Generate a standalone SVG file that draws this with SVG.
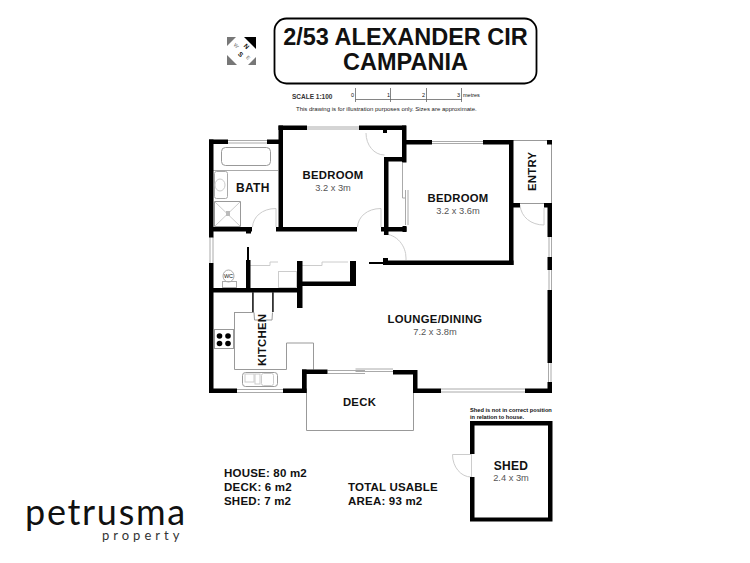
<svg xmlns="http://www.w3.org/2000/svg" width="750" height="563" viewBox="0 0 750 563">
<style>
text{font-family:"Liberation Sans",Arial,sans-serif;fill:#111}
.b{font-weight:bold}
.r{font-size:11.300px;font-weight:bold;letter-spacing:.3px}
.d{font-size:9.300px;fill:#555}
.a{font-size:11.500px;font-weight:bold;letter-spacing:.2px}
.w{fill:#000;stroke:none}
.t{fill:none;stroke:#aaa;stroke-width:1}
.l{fill:none;stroke:#ccc;stroke-width:1}
.g{fill:none;stroke:#999;stroke-width:1}
</style>
<rect width="750" height="563" fill="#fff"/>
<g id="title">
<rect x="274.500" y="18.500" width="262" height="65" rx="12" fill="#fff" stroke="#000" stroke-width="1.800"/>
<text class="b" x="405.500" y="44.500" font-size="23.500" text-anchor="middle">2/53 ALEXANDER CIR</text>
<text class="b" x="405.500" y="70" font-size="23.500" text-anchor="middle">CAMPANIA</text>
</g>
<g id="compass">
<polygon points="244,37 256,37 256,49" fill="#000"/>
<polygon points="227,37 236,37 227,46" fill="#777"/>
<polygon points="227,55 227,65 237,65" fill="#777"/>
<polygon points="256,57 256,65 248,65" fill="#777"/>
<text class="b" font-size="6.500" text-anchor="middle" transform="translate(245,48) rotate(45)">N</text>
<text class="b" font-size="6.500" text-anchor="middle" transform="translate(239,56) rotate(45)">S</text>
<text font-size="5" text-anchor="middle" transform="translate(235,47) rotate(45)" style="fill:#666">W</text>
<text font-size="5" text-anchor="middle" transform="translate(247,59) rotate(45)" style="fill:#666">E</text>
</g>
<g id="scale">
<text class="b" x="292" y="99" font-size="6.500" style="fill:#333">SCALE 1:100</text>
<path d="M355.500 99.500H462M355.500 88V102M390.500 88V102M426.500 88V102M461.500 88V102" fill="none" stroke="#666" stroke-width=".8"/>
<g font-size="5.500"><text x="351" y="97">0</text><text x="387" y="97">1</text><text x="422" y="97">2</text><text x="457" y="97">3</text><text x="463" y="97">metres</text></g>
<text x="296" y="111" font-size="6" style="fill:#222">This drawing is for illustration purposes only. Sizes are approximate.</text>
</g>
<g id="fixtures">
<rect x="221.500" y="147.500" width="49" height="18" rx="4" class="g"/>
<path d="M213 170.500H278" class="t"/>
<rect x="214.500" y="171.500" width="13" height="27" rx="2" class="t"/>
<ellipse cx="220" cy="185" rx="5" ry="6" class="l"/>
<rect x="214.500" y="201.500" width="26" height="25" class="g"/>
<path d="M214.500 201.500L240.500 226.500M240.500 201.500L214.500 226.500" class="l"/>
<rect x="226" y="211" width="4" height="5" fill="#bbb"/>
<ellipse cx="228.500" cy="276" rx="5.500" ry="6" class="t"/>
<rect x="222.500" y="281.500" width="14" height="6" class="t"/>
<rect x="278.500" y="271.500" width="18" height="16" class="l"/>
<path d="M250 265.500H270V262H278" class="l"/>
<path d="M302 265.500H322V262H348" class="l"/>
<path d="M234 312.500H254L254.500 320H272L272.500 312.500" class="g"/>
<path d="M234.500 312V369.500H286.500V343H313.500V369.500" class="g"/>
<rect x="214.500" y="329.500" width="19" height="19" class="g"/>
<g fill="#000"><circle cx="219.500" cy="336" r="2.800"/><circle cx="228" cy="336" r="2.800"/><circle cx="219.500" cy="343.500" r="2.800"/><circle cx="228" cy="343.500" r="2.800"/></g>
<rect x="242.500" y="372.500" width="35" height="14" rx="3" class="g"/>
<rect x="261.500" y="373.500" width="12" height="12" rx="2" class="l"/>
<rect x="245" y="374" width="9" height="8" class="l"/>
<rect x="255" y="374" width="5" height="10" class="l"/>
</g>
<g id="connectors">
<path d="M306.500 374V430.500H413.500V393" class="g"/>
<path d="M513 140.500H551.500V203M513 203.500H544" class="g"/>
<path d="M252.500 227C253 217 262 208.500 276 208.500V227" class="l"/>
<path d="M357.500 227C358 217 367 208.500 381 208.500V227" class="l"/>
<path d="M384.500 155C374 155 366 145 366 133" class="l"/>
<path d="M383.500 234C397 234 406 246 406 258V260" class="l"/>
<path d="M544 208V225C531 225 521 217 520 205" class="l"/>
<path d="M471 454.500H452.500C452.500 467 461 477 471 477" class="l"/>
<path d="M431.500 141.500H483M431.500 143.500H483" class="t"/>
<path d="M307 127H359M307 129H359" class="t"/>
<path d="M228 140.500H267M228 143H267" class="t"/>
<path d="M210 237V263M213 237V263" class="t"/>
<path d="M237 389.500H283M237 392.500H283" class="t"/>
<path d="M441 389H525M441 392H525" class="t"/>
<path d="M549 237V257M551.500 237V257M549 270V290M551.500 270V290M548.500 363V382M551 363V382" class="t"/>
<path d="M327.500 370.500H365M327.500 373.500H365M355.500 369H393M355.500 371.500H393" class="t"/>
<path d="M402.500 163V198H406M405.500 190V225M408 190V225" class="t"/>
<path d="M471.500 454V477" class="l"/>
</g>
<g id="walls" class="w">
<rect x="209" y="139.500" width="4.500" height="98"/>
<rect x="209" y="263" width="4.500" height="130"/>
<rect x="209" y="139.500" width="19" height="4.500"/>
<rect x="267" y="139.500" width="16" height="4.500"/>
<rect x="278.500" y="125.500" width="4.500" height="105"/>
<rect x="278.500" y="125.500" width="28.500" height="4.500"/>
<rect x="359" y="125.500" width="47" height="4.500"/>
<rect x="383" y="130" width="4" height="3"/>
<rect x="402" y="125.500" width="4.500" height="37"/>
<rect x="384" y="157" width="22" height="4.500"/>
<rect x="384" y="157" width="4.500" height="78"/>
<rect x="381" y="227" width="25.500" height="4.500"/>
<rect x="402.500" y="226" width="4" height="6"/>
<rect x="209" y="227" width="43" height="4.500"/>
<rect x="246" y="231" width="5" height="2.500"/>
<rect x="276" y="227" width="81" height="4.500"/>
<rect x="406" y="140" width="26" height="4.500"/>
<rect x="483" y="140" width="30" height="4.500"/>
<rect x="509" y="140" width="4.500" height="125"/>
<rect x="383" y="260.500" width="130.500" height="4.500"/>
<rect x="369" y="262" width="14" height="2"/>
<rect x="383" y="258" width="5" height="7"/>
<rect x="547" y="140" width="5" height="4.500"/>
<rect x="513" y="203" width="7" height="4.500"/>
<rect x="544" y="203" width="8" height="4.500"/>
<rect x="547.500" y="203" width="4.500" height="34"/>
<rect x="547.500" y="257" width="4.500" height="13"/>
<rect x="547.500" y="290" width="4.500" height="73"/>
<rect x="547.500" y="382" width="4.500" height="11"/>
<rect x="525" y="388.500" width="27" height="4.500"/>
<rect x="413" y="388.500" width="28" height="4.500"/>
<rect x="413" y="370" width="4.500" height="23"/>
<rect x="393" y="370" width="24" height="4.500"/>
<rect x="302" y="369.500" width="25.500" height="4.500"/>
<rect x="302" y="369.500" width="4.500" height="23.500"/>
<rect x="283" y="388.500" width="23.500" height="4.500"/>
<rect x="209" y="388.500" width="28" height="4.500"/>
<rect x="209" y="288" width="93" height="4.500"/>
<rect x="246" y="260" width="4.500" height="30"/>
<rect x="247" y="247" width="2" height="14"/>
<rect x="297" y="261" width="5.500" height="47"/>
<rect x="350" y="261" width="6" height="25"/>
<rect x="297" y="281.500" width="59" height="4.500"/>
<rect x="252" y="292" width="1.800" height="20" fill="#333"/>
<rect x="272" y="292" width="1.800" height="20" fill="#333"/>
<path d="M470 521.500V477H474.500V517.500H548V425.500H474.500V454H470V421H552.500V521.500Z"/>
</g>
<g id="bath"><text class="b" x="236" y="192" font-size="12" letter-spacing=".3">BATH</text></g>
<g id="wc"><text x="228.500" y="277.500" font-size="5.500" text-anchor="middle">WC</text></g>
<g id="bedroom1"><text class="r" x="333" y="178.500" text-anchor="middle">BEDROOM</text><text class="d" x="333" y="190.500" text-anchor="middle">3.2 x 3m</text></g>
<g id="bedroom2"><text class="r" x="458" y="202" text-anchor="middle">BEDROOM</text><text class="d" x="458" y="214" text-anchor="middle">3.2 x 3.6m</text></g>
<g id="entry"><text class="r" transform="translate(536,191) rotate(-90)">ENTRY</text></g>
<g id="kitchen"><text class="r" transform="translate(266,366) rotate(-90)">KITCHEN</text></g>
<g id="lounge"><text class="r" x="435" y="323" text-anchor="middle">LOUNGE/DINING</text><text class="d" x="435" y="335" text-anchor="middle">7.2 x 3.8m</text></g>
<g id="deck"><text class="r" x="359.500" y="406" text-anchor="middle">DECK</text></g>
<g id="shed"><text class="r" x="511" y="470" text-anchor="middle" style="font-size:12px">SHED</text><text class="d" x="511" y="481" text-anchor="middle">2.4 x 3m</text></g>
<g id="shednote" font-size="5.700"><text class="b" x="470" y="412">Shed is not in correct position</text><text class="b" x="470" y="419">in relation to house.</text></g>
<g id="areas">
<text class="a" x="224" y="477">HOUSE: 80 m2</text>
<text class="a" x="224" y="491">DECK: 6 m2</text>
<text class="a" x="224" y="505">SHED: 7 m2</text>
<text class="a" x="348" y="491">TOTAL USABLE</text>
<text class="a" x="348" y="505">AREA: 93 m2</text>
</g>
<g id="logo">
<text x="25" y="525" style="font-family:Lato,sans-serif;font-weight:400" font-size="36" letter-spacing="1.700">petrusma</text>
<text x="102" y="540" style="font-family:Lato,sans-serif;fill:#333" font-size="13" letter-spacing="4">property</text>
</g>
</svg>
